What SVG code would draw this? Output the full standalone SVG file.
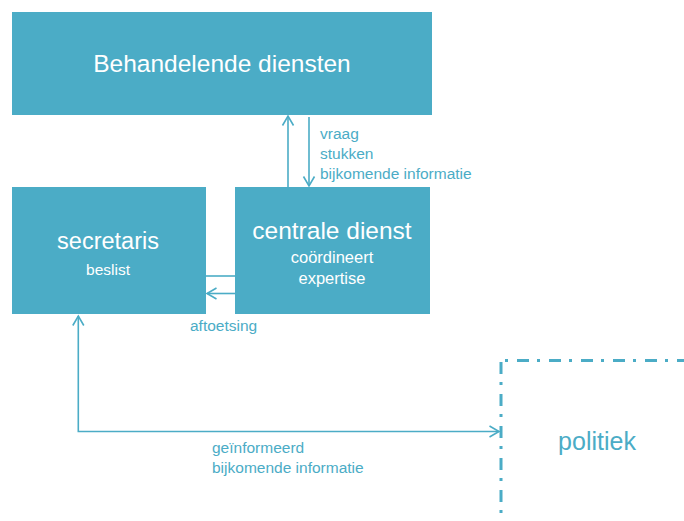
<svg xmlns="http://www.w3.org/2000/svg" width="684" height="521" viewBox="0 0 684 521">
<style>
.box{fill:#4BACC6}
.t{font-family:"Liberation Sans",Arial,sans-serif;fill:#fff;text-anchor:middle}
.lbl{font-family:"Liberation Sans",Arial,sans-serif;fill:#4BACC6;font-size:15.5px}
.c{stroke:#4BACC6;stroke-width:1.6;fill:none}
.dd{stroke:#4BACC6;stroke-width:3;fill:none;stroke-dasharray:12 8 3 9}
</style>
<defs>
<marker id="ah" markerUnits="userSpaceOnUse" markerWidth="14" markerHeight="14" viewBox="-12 -7 14 14" refX="0" refY="0" orient="auto-start-reverse">
<path d="M-9.5,-5.5 L0,0 L-9.5,5.5" fill="none" stroke="#4BACC6" stroke-width="1.6"/>
</marker>
</defs>
<g id="behandelende">
<rect class="box" x="12" y="12" width="420" height="103"/>
<text class="t" x="222" y="72" font-size="24.5">Behandelende diensten</text>
</g>
<g id="secretaris">
<rect class="box" x="12" y="187" width="194" height="127"/>
<text class="t" x="108" y="249" font-size="23.5">secretaris</text>
<text class="t" x="108" y="275" font-size="15.5">beslist</text>
</g>
<g id="centrale">
<rect class="box" x="235" y="187" width="195" height="127"/>
<text class="t" x="332" y="239" font-size="24.5">centrale dienst</text>
<text class="t" x="332" y="263" font-size="16.5">coördineert</text>
<text class="t" x="332" y="284" font-size="16.5">expertise</text>
</g>
<g id="politiek">
<line class="dd" x1="505" y1="360.5" x2="684" y2="360.5" stroke-dashoffset="20"/>
<line class="dd" x1="501" y1="362" x2="501" y2="521"/>
<text x="597" y="450" font-family="'Liberation Sans',Arial,sans-serif" font-size="25" fill="#4BACC6" text-anchor="middle">politiek</text>
</g>
<g id="connectors">
<line class="c" x1="288" y1="187" x2="288" y2="116" marker-end="url(#ah)"/>
<line class="c" x1="309" y1="117" x2="309" y2="186" marker-end="url(#ah)"/>
<line class="c" x1="206" y1="276" x2="235" y2="276"/>
<line class="c" x1="235" y1="293.5" x2="207" y2="293.5" marker-end="url(#ah)"/>
<polyline class="c" points="499,431.5 78.3,431.5 78.3,316" marker-start="url(#ah)" marker-end="url(#ah)"/>
<text class="lbl" x="320" y="139">vraag</text>
<text class="lbl" x="320" y="159">stukken</text>
<text class="lbl" x="320" y="179">bijkomende informatie</text>
<text class="lbl" x="190" y="331">aftoetsing</text>
<text class="lbl" x="212" y="453">geïnformeerd</text>
<text class="lbl" x="212" y="473">bijkomende informatie</text>
</g>
</svg>
